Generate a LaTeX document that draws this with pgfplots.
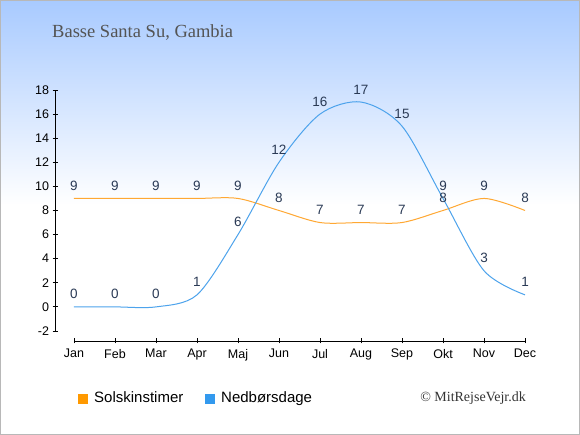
\documentclass[border=0pt]{standalone}
\usepackage{pgfplots}
\pgfplotsset{compat=1.18}
\usepackage{fontspec}
\setmainfont{Liberation Sans}
\newfontfamily\seriff{Liberation Serif}
\definecolor{sunc}{HTML}{FFA833}
\definecolor{rainc}{HTML}{4DA3EC}
\definecolor{sunleg}{HTML}{FF9900}
\definecolor{rainleg}{HTML}{3399EE}
\definecolor{labc}{HTML}{2A3A55}
\definecolor{topc}{HTML}{A8CAFF}
\begin{document}
\begin{tikzpicture}
\path[use as bounding box] (0pt,0pt) rectangle (580pt,435pt);
\fill[white] (0pt,0pt) rectangle (580pt,435pt);
\fill[top color=topc,bottom color=white] (0pt,230pt) rectangle (580pt,435pt);
\draw[color=black!28] (0.5pt,0.5pt) rectangle (579.5pt,434.5pt);
\node[anchor=base west, font=\seriff\fontsize{18.5}{21}\selectfont, text=black!67, inner sep=0] at (52pt,397pt) {Basse Santa Su, Gambia};
\begin{axis}[at={(55pt,94pt)}, anchor=south west, scale only axis,
  width=470pt, height=251pt,
  xmin=-0.463, xmax=11, ymin=-2.83, ymax=18,
  axis line style={draw=none},
  ytick={-2,0,...,18},
  xtick={0,...,11},
  xticklabels={Jan,Feb,Mar,Apr,Maj,Jun,Jul,Aug,Sep,Okt,Nov,Dec},
  tick pos=left, tick align=center, major tick length=5pt,
  tick style={black, line width=0.8pt},
  ticklabel style={font=\fontsize{12.5}{14}\selectfont, text=black},
  xticklabel style={yshift=-2pt},
  /pgf/number format/assume math mode=true,
  clip=false,
  nodes near coords,
  every node near coord/.style={font=\fontsize{13.5}{15}\selectfont, text=labc, anchor=base, inner sep=0pt, yshift=8pt},
]
\draw[black, line width=0.8pt] (axis cs:-0.463,-2) -- (axis cs:-0.463,18);
\draw[black, line width=0.8pt] (axis cs:0,-2.83) -- (axis cs:11,-2.83);
\addplot[sunc, line width=1pt, smooth, no markers] coordinates {
(0,9) (1,9) (2,9) (3,9) (4,9) (5,8) (6,7) (7,7) (8,7) (9,8) (10,9) (11,8)};
\addplot[rainc, line width=1pt, smooth, no markers] coordinates {
(0,0) (1,0) (2,0) (3,1) (4,6) (5,12) (6,16) (7,17) (8,15) (9,9) (10,3) (11,1)};
\end{axis}
\fill[sunleg] (78pt,31pt) rectangle (88pt,41pt);
\node[anchor=base west, inner sep=0, font=\fontsize{15}{17}\selectfont] at (94pt,32pt) {Solskinstimer};
\fill[rainleg] (205pt,31pt) rectangle (215pt,41pt);
\node[anchor=base west, inner sep=0, font=\fontsize{15}{17}\selectfont] at (221pt,32pt) {Nedbørsdage};
\node[anchor=base east, inner sep=0, font=\seriff\fontsize{14}{16}\selectfont, text=black!80] at (526pt,33pt) {© MitRejseVejr.dk};
\end{tikzpicture}
\end{document}
